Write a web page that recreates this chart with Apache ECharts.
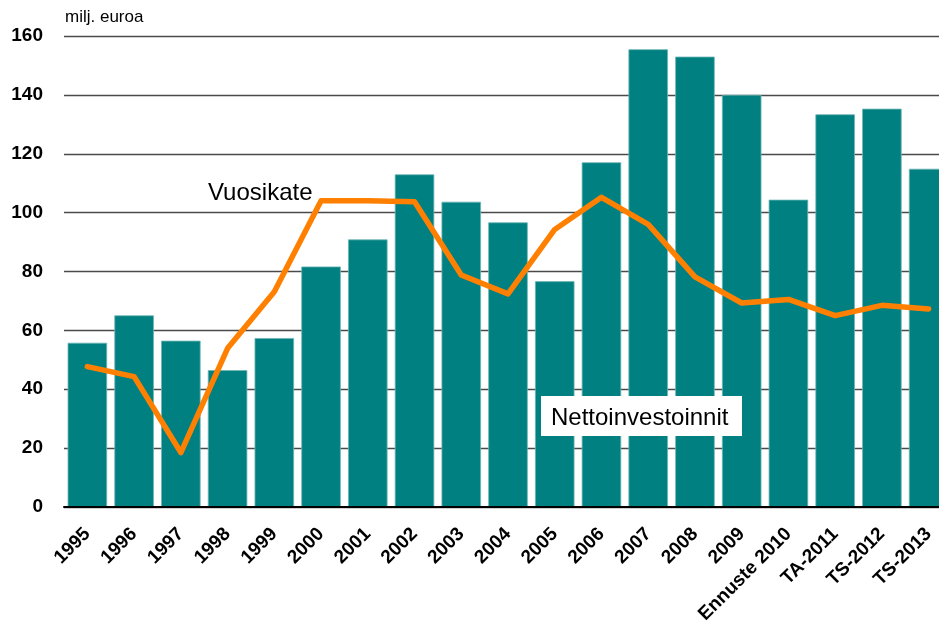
<!DOCTYPE html>
<html>
<head>
<meta charset="utf-8">
<script src="https://cdn.jsdelivr.net/npm/echarts@6/dist/echarts.min.js"></script>
<style>html,body{margin:0;padding:0;background:#fff;}#c{width:939px;height:623px;}</style>
</head>
<body>
<div id="c"></div>
<script>
const categories = ['1995','1996','1997','1998','1999','2000','2001','2002','2003','2004','2005','2006','2007','2008','2009','Ennuste 2010','TA-2011','TS-2012','TS-2013'];
const nettoinvestoinnit = [55.8, 65.1, 56.5, 46.5, 57.4, 81.7, 90.9, 113.0, 103.7, 96.7, 76.7, 117.1, 155.5, 153.0, 140.0, 104.4, 133.4, 135.3, 114.9];
const vuosikate = [47.7, 44.3, 18.5, 53.9, 73.1, 104.0, 104.0, 103.7, 78.8, 72.4, 94.3, 105.2, 96.0, 78.2, 69.3, 70.5, 65.0, 68.5, 67.3];
const yTicks = { min: 0, max: 160, interval: 20 };
const unitLabel = 'milj. euroa';
const lineLabel = 'Vuosikate';
const barLabel = 'Nettoinvestoinnit';

const chart = echarts.init(document.getElementById('c'), null, { renderer: 'canvas' });
chart.setOption({
  animation: false,
  backgroundColor: '#ffffff',
  grid: { left: 64, top: 36, width: 888, height: 471, containLabel: false, outerBoundsMode: 'none' },
  xAxis: {
    type: 'category',
    data: categories,
    boundaryGap: true,
    axisLine: { show: true, lineStyle: { color: '#000', width: 2 } },
    axisTick: { show: false },
    axisLabel: {
      interval: 0, rotate: 45, margin: 24,
      fontFamily: 'Liberation Sans, Arial, sans-serif', fontWeight: 'bold', fontSize: 19, color: '#000'
    },
    z: 5
  },
  yAxis: {
    type: 'value',
    min: yTicks.min, max: yTicks.max, interval: yTicks.interval,
    axisLine: { show: false },
    axisTick: { show: false },
    axisLabel: {
      margin: 21,
      fontFamily: 'Liberation Sans, Arial, sans-serif', fontWeight: 'bold', fontSize: 19, color: '#000'
    },
    splitLine: { show: true, lineStyle: { color: '#4a4a4a', width: 1.3 } }
  },
  series: [
    {
      name: barLabel,
      type: 'bar',
      data: nettoinvestoinnit,
      barWidth: 39.5,
      itemStyle: { color: '#008080', borderColor: '#6fb5b5', borderWidth: 0.8 },
      z: 2
    },
    {
      name: lineLabel,
      type: 'line',
      data: vuosikate,
      showSymbol: false,
      symbol: 'none',
      lineStyle: { color: '#ff8000', width: 5.5, cap: 'round', join: 'round' },
      z: 3
    }
  ],
  graphic: [
    { type: 'text', left: 65, top: 9, style: { text: unitLabel, font: '17px "Liberation Sans", Arial, sans-serif', fill: '#000' } },
    { type: 'text', x: 208, y: 193, style: { text: lineLabel, font: '24px "Liberation Sans", Arial, sans-serif', fill: '#000', verticalAlign: 'middle', align: 'left' }, z: 10 },
    { type: 'rect', shape: { x: 541, y: 396, width: 201, height: 40 }, style: { fill: '#ffffff' }, z: 10 },
    { type: 'text', x: 551, y: 418, style: { text: barLabel, font: '24px "Liberation Sans", Arial, sans-serif', fill: '#000', verticalAlign: 'middle', align: 'left' }, z: 11 }
  ]
});
</script>
</body>
</html>
